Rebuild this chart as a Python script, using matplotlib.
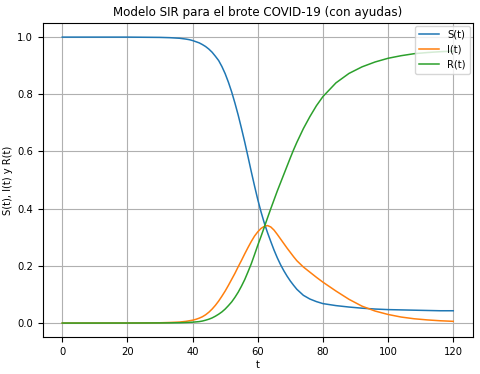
import matplotlib
matplotlib.use("Agg")
import matplotlib.pyplot as plt

# tiempos (días) y valores
t = [0, 10, 20, 25, 30, 33, 36,
     38, 39, 40, 41, 42, 43, 44, 45, 46, 47, 48, 49, 50, 51, 52, 53, 54, 55,
     56, 57, 58, 59, 60, 61, 62, 63, 64, 65, 66, 67, 68, 69, 70, 71, 72,
     74, 76, 78, 80,
     84, 88, 92, 96, 100, 104, 108, 112, 116, 120]

S = [1.0, 1.0, 1.0, 0.9995, 0.999, 0.998, 0.996,
     0.993, 0.991, 0.988, 0.984, 0.980, 0.974, 0.967, 0.958, 0.947, 0.933, 0.918, 0.897,
     0.872, 0.842, 0.808, 0.769, 0.727, 0.681,
     0.633, 0.582, 0.530, 0.480, 0.432, 0.389, 0.350, 0.316, 0.285, 0.255, 0.228, 0.204,
     0.183, 0.164, 0.147, 0.132, 0.118,
     0.097, 0.084, 0.075, 0.068,
     0.061, 0.056, 0.052, 0.049, 0.047, 0.046, 0.045, 0.044, 0.043, 0.043]

I = [0.0, 0.0001, 0.0002, 0.0005, 0.001, 0.002, 0.0035,
     0.006, 0.008, 0.010, 0.013, 0.017, 0.022, 0.029, 0.038, 0.049, 0.062, 0.077, 0.094,
     0.112, 0.132, 0.153, 0.174, 0.197, 0.219,
     0.242, 0.264, 0.285, 0.304, 0.319, 0.331, 0.338, 0.341, 0.336, 0.325, 0.310, 0.294,
     0.278, 0.262, 0.247, 0.232, 0.218,
     0.196, 0.178, 0.160, 0.143,
     0.112, 0.083, 0.059, 0.042, 0.030, 0.021, 0.015, 0.011, 0.008, 0.006]

R = [0.0, 0.0, 0.0001, 0.0002, 0.0004, 0.0007, 0.0012,
     0.002, 0.0025, 0.003, 0.004, 0.005, 0.007, 0.010, 0.0135, 0.018, 0.024, 0.031, 0.039,
     0.049, 0.061, 0.074, 0.090, 0.108, 0.129,
     0.152, 0.179, 0.207, 0.239, 0.272, 0.303, 0.335, 0.368, 0.400, 0.431, 0.462, 0.491,
     0.520, 0.549, 0.578, 0.606, 0.632,
     0.680, 0.722, 0.760, 0.792,
     0.840, 0.873, 0.896, 0.913, 0.926, 0.935, 0.942, 0.946, 0.949, 0.951]

fs = 7.2
fig, ax = plt.subplots(figsize=(4.8, 3.74), dpi=100)
fig.subplots_adjust(left=0.089, right=0.985, top=0.939, bottom=0.098)

ax.plot(t, S, label="S(t)", lw=1.1)
ax.plot(t, I, label="I(t)", lw=1.1)
ax.plot(t, R, label="R(t)", lw=1.1)

ax.set_xticks([0, 20, 40, 60, 80, 100, 120])
ax.set_yticks([0.0, 0.2, 0.4, 0.6, 0.8, 1.0])
ax.tick_params(labelsize=fs)
ax.set_xlabel("t", fontsize=fs, labelpad=2)
ax.set_ylabel("S(t), I(t) y R(t)", fontsize=fs, labelpad=3)
ax.set_title("Modelo SIR para el brote COVID-19 (con ayudas)", fontsize=8.6, pad=5)
ax.grid(True)
ax.legend(loc="upper right", fontsize=fs, borderaxespad=0.3)

fig.savefig("out.png", dpi=100)
